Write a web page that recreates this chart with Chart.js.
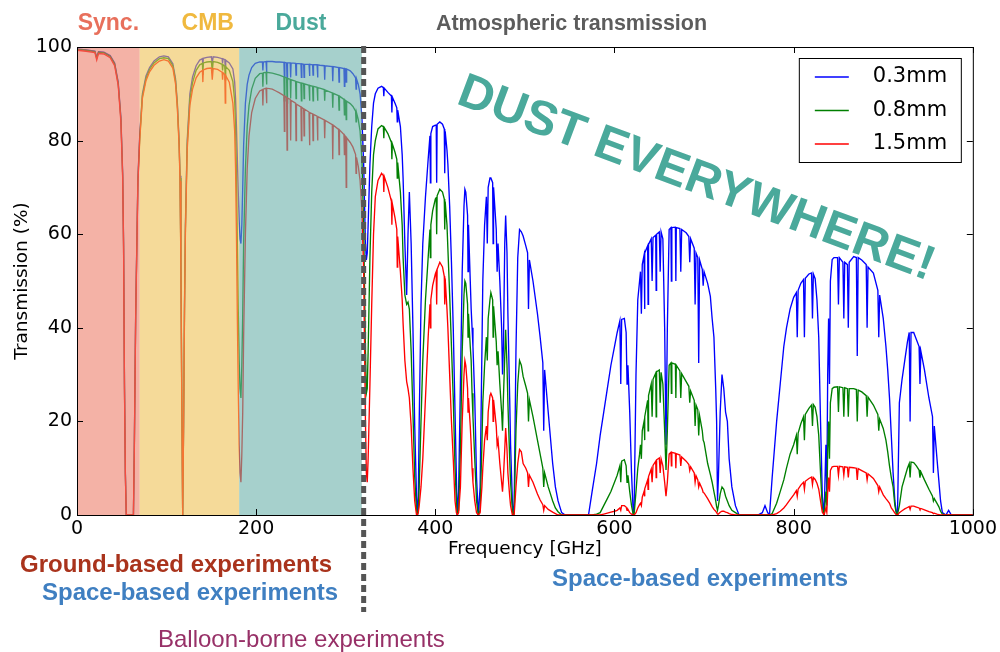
<!DOCTYPE html>
<html>
<head>
<meta charset="utf-8">
<script src="https://cdn.jsdelivr.net/npm/chart.js@4.4.0/dist/chart.umd.min.js"></script>
<style>
  html, body { margin: 0; padding: 0; background: #fff; }
  #canvas_div { width: 1000px; height: 652px; }
</style>
</head>
<body>
<div id="canvas_div"><canvas id="myChart" width="1000" height="652"></canvas></div>
<script>
// frequency grid (GHz), shared by the three PWV curves
const freqGHz = [
  // sync / 60 GHz O2
  0, 10, 20, 22, 24, 30, 37, 42, 46, 49, 51, 52, 53, 54, 55, 60, 63, 64, 65.5, 68,
  // CMB window 1
  70, 73, 77, 81, 86, 92, 97, 102, 107, 110, 112, 114, 115, 116, 117, 118,
  // CMB window 2
  119, 120, 121, 123, 126, 129, 133, 137, 140, 140.5,
  141, 145, 150, 151, 152, 157, 162, 162.5, 163, 165,
  165.5, 166, 170, 174, 176, 177, 178, 179, 180, 181,
  182, 183,
  // dust window
  184, 185, 186, 188, 190, 192, 195, 199, 204, 207,
  207.5, 208, 211, 211.5, 212, 218, 222, 226, 231, 231.5,
  232, 234, 234.5, 235, 238, 238.5, 239, 244, 244.5, 245,
  250, 250.5, 251, 253, 253.5, 254, 259, 259.5, 260, 263,
  263.5, 264, 268, 268.5, 269, 271, 276, 276.5, 277, 285,
  285.5, 286, 292, 292.5, 293, 298, 298.5, 299, 300, 300.5,
  301, 305, 308, 311, 311.5, 312, 314, 316, 318,
  // 350 GHz window
  320, 322, 323, 324, 325, 327, 329, 331, 333, 336,
  340, 342, 342.5, 343, 347, 351, 351.5, 352, 355, 357,
  357.5, 358, 361, 363, 364, 366, 368, 369.5, 371, 373,
  375, 377, 379, 380,
  // 400 GHz
  381, 382, 384, 386, 389, 392, 394, 394.5, 395, 397,
  400, 401, 401.5, 402, 405, 408, 410, 410.5, 411, 413,
  414, 416, 418, 420, 422, 423.5, 424.5,
  // 435 GHz
  426, 428, 430, 432, 433, 434, 436, 436.5, 437, 439,
  440, 441, 442, 444, 446, 448,
  // 460 GHz
  450, 452, 453, 455, 457, 458, 459, 461, 462, 464,
  464.5, 465, 468, 469, 470, 472, 474, 475, 476, 477.5,
  478.5, 480, 481, 483, 484, 486, 487,
  // 500 GHz
  488, 490, 492, 494, 496, 498, 501, 503, 504, 505,
  509, 514, 517, 520, 521, 522, 526, 531, 534, 537,
  541, 545, 560, 571,
  // 600 GHz
  575, 580, 584, 588, 592, 596, 600, 603, 606, 607,
  608, 611, 613, 614, 615, 617, 619, 621,
  // 650 GHz
  622, 624, 626, 628, 629, 630, 631, 633, 633.5, 634,
  637, 637.5, 638, 641, 642, 643, 646, 646.5, 647, 650,
  651, 652, 654, 656, 657.5, 659, 661, 663, 663.5, 664,
  668, 668.5, 669, 673, 674, 675, 680, 683, 684, 685,
  689, 690, 691, 693, 694, 695, 698, 699, 700, 704,
  707, 709, 711, 713, 714, 715, 716, 718, 720, 722,
  724, 726, 728, 731, 735, 739,
  // 850 GHz
  745, 760, 765, 768, 771, 773, 776, 781, 785, 789,
  792, 796, 800, 803, 804, 805, 808, 811, 812, 813,
  817, 820, 821, 822, 824, 826, 828, 830, 832, 834,
  836, 837, 838, 839, 840, 841, 843, 845, 849, 850,
  851, 855, 856, 857, 860, 861, 862, 867, 870, 871,
  872, 876, 881, 882, 883, 889, 894, 895, 896, 900,
  903, 905, 907, 909, 911, 913, 915,
  // 940 GHz
  916, 918, 921, 924, 927, 929, 930, 931, 934, 937,
  940, 941, 942, 946, 951, 955, 956, 957, 960, 962,
  964, 966, 970, 973, 976, 1000
];

// transmission (%) for 0.3 mm PWV
const pwv03 = [
  99.6, 99.4, 99.1, 97.8, 99.0, 98.9, 98.2, 96.6, 92.5, 85, 73, 58, 28, 9, 0, 0, 0, 15, 43, 72,
  81, 90, 93.8, 95.6, 97, 97.9, 98.1, 97.9, 96.4, 93.2, 88.2, 80, 72.5, 55, 25, 0,
  20, 45, 62, 80, 90, 93.6, 96, 97.2, 97.5, 95.8,
  97.6, 97.8, 97.9, 96.6, 97.9, 97.8, 97.5, 96.5, 97.5, 97.3,
  95.5, 97.2, 96.6, 95.3, 92.5, 89, 83, 76, 69, 63,
  59, 58,
  62, 70, 79, 88, 92, 94, 95.6, 96.5, 96.8, 96.8,
  95, 96.8, 96.9, 94.6, 96.9, 96.9, 96.8, 96.8, 96.7, 93.5,
  96.7, 96.6, 93, 96.6, 96.6, 93.5, 96.6, 96.5, 94, 96.5,
  96.4, 93.5, 96.4, 96.3, 93.5, 96.3, 96.3, 93.8, 96.3, 96.2,
  94, 96.2, 96.2, 93.5, 96.2, 96.1, 96, 93, 96, 95.8,
  92.7, 95.8, 95.6, 92.5, 95.6, 95.4, 91.6, 95.4, 95.3, 92.5,
  95.3, 94.9, 94.3, 93.4, 91, 93.2, 92, 90, 85,
  75, 58, 54.5, 56, 62, 75, 83, 88, 90, 91.2,
  91.6, 91.3, 89.5, 91.2, 90.3, 89.5, 86, 89.3, 88, 87,
  84, 86.5, 83, 77, 72, 58, 47, 60, 69, 58,
  40, 19, 4, 0,
  4, 20, 45, 58, 68, 76, 81, 71, 81.5, 83,
  83.3, 83.3, 71, 83.5, 84, 83.5, 82.5, 73, 82, 78,
  75, 66, 54, 40, 22, 8, 0,
  5, 28, 52, 66, 69.6, 69, 64, 52, 62, 50,
  44, 40, 36, 25, 8, 0,
  6, 35, 50, 62, 68, 58, 70, 72, 72, 71,
  58, 70, 61, 52, 58, 50, 40, 30, 36, 58,
  64, 56, 43, 25, 15, 3, 0,
  2, 35, 55, 61, 60.5, 59.6, 57.5, 56, 44, 54.5,
  50, 43, 38, 32.5, 18, 31, 22, 11, 6, 3,
  0.5, 0, 0, 0,
  5, 11, 17, 22, 27, 32, 36, 39, 41.5, 28,
  41.8, 42, 39, 28, 32, 22, 9, 0,
  2, 30, 46, 50, 52, 43, 53.5, 55.5, 44, 56,
  57.5, 45, 57.8, 59, 50, 59.3, 59.8, 48, 60, 60.5,
  52, 60.5, 59, 40, 15, 40, 61, 61.4, 50, 61.4,
  61.5, 50, 61.4, 61.2, 52, 61, 60.3, 59.5, 54, 59,
  57, 45, 56, 55, 32.5, 54.5, 52.5, 49, 52, 49.5,
  46.7, 42, 38, 27, 20, 3, 8, 22, 30, 27,
  22, 20, 12, 6, 2, 0,
  0, 0, 0.5, 2, 0.5, 0, 8, 20, 28, 36,
  40, 44, 46.5, 47.5, 38, 48, 49.5, 50.3, 38, 50.6,
  51.5, 51.7, 42, 51.5, 50.5, 46, 38, 20, 4, 0,
  15, 5, 30, 42, 28, 50, 54.6, 55, 55, 45,
  55, 54, 42, 54, 53.5, 40, 54, 55.2, 55, 34,
  55, 54.5, 53.5, 40, 53, 51.7, 48, 38, 47, 42,
  36, 31, 25, 17, 9, 3, 0,
  1, 24, 29, 33, 37, 39, 20, 39, 39, 37.5,
  36, 28, 35, 31, 25, 21, 9, 19, 12, 7.5,
  3, 0.5, 0, 1, 0, 0
];

// transmission (%) for 0.8 mm PWV
const pwv08 = [
  99.5, 99.3, 99.0, 97.6, 98.9, 98.8, 98.0, 96.4, 92.2, 84.6, 72.5, 57.5, 27.5, 8.7, 0, 0, 0, 14.5, 42.5, 71.5,
  80.5, 89.5, 93.3, 95.2, 96.6, 97.5, 97.7, 97.5, 96.0, 92.7, 87.6, 79.4, 72, 54, 24, 0,
  19.5, 44, 61, 79, 88.8, 92.4, 95, 96.2, 96.5, 94,
  96.6, 96.8, 96.9, 94.8, 96.9, 96.7, 96.3, 95, 96.2, 95.9,
  93, 95.8, 95, 92.6, 88.5, 83, 73, 58, 44, 33,
  27, 25,
  32, 43, 58, 74, 83, 87.5, 91, 93.3, 94.3, 94.4,
  91.5, 94.5, 94.6, 92, 94.6, 94.4, 94.2, 94, 93.6, 88.5,
  93.5, 93.4, 88, 93.3, 93.1, 89, 93, 92.7, 89, 92.6,
  92.3, 88.5, 92.3, 92.2, 89, 92.1, 91.8, 88.5, 91.8, 91.6,
  88.5, 91.6, 91.4, 88.5, 91.3, 91.2, 90.9, 88.5, 90.8, 90.2,
  87, 90.1, 89.6, 86.5, 89.5, 88.8, 85.5, 88.7, 88.5, 84.5,
  88.4, 87.9, 87.3, 86.3, 84, 86, 84.5, 82, 76,
  62, 35, 26, 27, 35, 55, 69, 77, 80, 82.5,
  83.2, 83, 80.5, 82.8, 81.5, 79.6, 76, 79.3, 77.5, 76,
  72, 75.3, 69, 62, 55, 47, 45, 45.5, 44, 35,
  22, 8, 1, 0,
  1, 6, 20, 33, 46, 55, 61, 55, 62, 65,
  67.5, 67.8, 60, 68.2, 69.6, 69, 67.5, 61, 67, 62,
  57, 47, 36, 25, 10, 3, 0,
  1, 14, 35, 47, 50, 49.5, 45, 38, 43, 36,
  33, 26, 21, 12, 3, 0,
  1, 15, 24, 32, 38, 33, 42, 46, 47.5, 46,
  38, 44.6, 37, 32, 35, 28, 22, 18, 25, 34,
  39.6, 32, 24, 12, 7, 1, 0,
  0.5, 18, 28, 33, 32, 29.6, 27.5, 26, 20, 24.6,
  21, 16, 13, 10, 6, 9, 6, 3, 1.5, 0.7,
  0, 0, 0, 0,
  0, 0.2, 0.5, 2, 3.5, 5, 7, 8.5, 10.5, 7,
  11.5, 11.8, 10.5, 7, 8.5, 5, 2, 0,
  0.3, 5, 10, 13, 15, 12, 18, 20, 16, 21,
  24.5, 18, 25.5, 28, 21, 29, 30.3, 21, 30.6, 31,
  24, 30.5, 28, 18, 9.6, 18, 32, 32.5, 26, 32.5,
  32.2, 25, 32, 30.8, 25, 30.2, 28.5, 27.5, 24, 26.5,
  24.5, 19, 23.5, 22.5, 17, 21.2, 18, 16, 15.5, 11,
  8.7, 7, 5, 3, 1.8, 1, 2, 4.5, 6, 5.5,
  4, 3, 2, 1, 0.5, 0,
  0, 0, 0, 0, 0, 0, 0.3, 2.5, 5, 7.5,
  10, 13, 15, 17, 13, 17.5, 19.5, 21, 16, 21.5,
  22.8, 23.5, 19, 23.6, 23, 21, 17, 9, 1.5, 0,
  5, 2, 14, 20, 12, 24, 27, 27.3, 27.4, 22,
  27.4, 27.2, 21, 27.2, 27, 21, 27, 27, 26.8, 20,
  26.7, 26.3, 25.5, 21, 25.2, 23.5, 21.5, 18, 20.5, 18.5,
  16, 13.5, 10.5, 8, 6, 2, 0,
  0.2, 2, 6, 8, 10, 11, 8, 11.3, 11.2, 10.5,
  9.6, 8, 9.2, 7.5, 5.5, 4, 3, 3.5, 2.5, 1.8,
  0.8, 0.2, 0, 0, 0, 0
];

// transmission (%) for 1.5 mm PWV
const pwv15 = [
  99.3, 99.1, 98.8, 97.2, 98.6, 98.5, 97.7, 96.0, 91.8, 84, 72, 57, 27, 8.5, 0, 0, 0, 14, 42, 71,
  80, 89, 92.8, 94.7, 96.1, 97.0, 97.3, 97.0, 95.5, 92.1, 87, 78.8, 71.3, 53, 23, 0,
  19, 43, 60, 78, 87.5, 91, 93.4, 94.6, 95, 92.5,
  95.1, 95.4, 95.5, 93, 95.4, 95.2, 94.6, 93, 94.5, 94.1,
  88, 93.9, 92.5, 88, 82, 74, 60, 42, 27, 15,
  9, 7,
  13, 22, 38, 60, 74, 81, 86, 89, 90.6, 90.9,
  87.5, 91, 91.2, 88, 91.2, 91, 90.6, 90.2, 89.6, 82,
  89.5, 89.3, 78, 89.1, 88.8, 80, 88.6, 88, 80, 87.8,
  87.2, 80, 87.1, 86.8, 81, 86.7, 86.1, 79, 86, 85.7,
  80, 85.6, 85.2, 80, 85.1, 84.9, 84.4, 80.5, 84.3, 83.4,
  76, 83.3, 82.4, 77, 82.3, 81.3, 77, 81.1, 80.8, 70,
  80.6, 79.6, 78.6, 77, 73, 76.4, 74.5, 71.5, 65,
  52, 20, 9, 7, 12, 28, 45, 60, 68, 71.5,
  73, 72.5, 69, 72.3, 70, 67, 62, 66.5, 63.5, 61,
  53, 59.5, 52, 46, 41, 33, 28.5, 27, 25, 19,
  10, 3, 0, 0,
  0.5, 2, 6, 12, 25, 38, 45, 40, 46, 49,
  51.5, 52, 45, 52.5, 54, 53, 51, 45, 50.5, 44,
  40, 30, 20, 12, 3, 0.5, 0,
  0.5, 6, 20, 30, 33, 32, 27, 22, 25, 19,
  15, 10, 7, 3, 0.5, 0,
  0.5, 6, 10, 16, 19, 16, 22, 25.5, 26, 25,
  20, 24.6, 19, 15, 16, 11, 7, 5, 8, 14,
  18.6, 14, 9, 4, 2, 0, 0,
  0, 6, 11, 14, 13.5, 11, 10, 9, 6, 8.5,
  7, 4.5, 3.2, 2.2, 1, 2, 1.2, 0.6, 0.3, 0,
  0, 0, 0, 0,
  0, 0, 0, 0.2, 0.4, 0.6, 0.8, 1, 1.5, 1,
  2, 2, 1.7, 1, 1.2, 0.5, 0.2, 0,
  0, 0.5, 1.5, 2.2, 2.5, 2, 3.8, 5, 4, 5.6,
  7.5, 5.5, 8.2, 9.8, 7, 10.6, 11.5, 8, 11.8, 12.2,
  9, 12, 10.5, 7, 4, 7, 13, 13.4, 10.5, 13.4,
  13.2, 10, 13.1, 12.8, 10.5, 12.4, 11.5, 10.8, 9.5, 10.3,
  9, 7, 8.4, 7.5, 6, 6.8, 5.5, 4.8, 4.7, 3.5,
  2.5, 1.8, 1.2, 0.8, 0.5, 0.2, 0.2, 0.6, 0.8, 0.8,
  0.6, 0.5, 0.3, 0.1, 0, 0,
  0, 0, 0, 0, 0, 0, 0, 0.3, 0.8, 1.5,
  2.2, 3.3, 4.3, 5.2, 4, 5.5, 6.4, 7, 5.5, 7.2,
  7.8, 8.1, 6.5, 8, 7.6, 6.8, 5.5, 3, 0.6, 0,
  1.5, 0.6, 5, 8, 5, 9.5, 10.3, 10.4, 10.4, 8.5,
  10.4, 10.3, 8.5, 10.3, 10.2, 8, 10.2, 10.1, 10, 7.5,
  9.9, 9.5, 9, 7.5, 8.8, 7.8, 6.3, 5, 6, 4.3,
  3.5, 3, 2.5, 1.5, 1, 0.4, 0,
  0, 0.5, 0.9, 1.3, 1.6, 1.8, 1.2, 1.9, 1.9, 1.7,
  1.5, 1.2, 1.4, 1.1, 0.7, 0.5, 0.3, 0.4, 0.2, 0.1,
  0, 0, 0, 0, 0, 0
];

const seriesNames = ["0.3mm", "0.8mm", "1.5mm"];
const seriesColors = ["#0000ff", "#007f00", "#ff0000"];
const seriesValues = [pwv03, pwv08, pwv15];

const xTicks = [0, 200, 400, 600, 800, 1000];
const yTicks = [0, 20, 40, 60, 80, 100];

// foreground bands, GHz
const bandEdges = [0, 70, 181, 318];
const bandLabels = ["Sync.", "CMB", "Dust"];
const bandLabelAt = [35, 146, 250];
const bandFills = ["rgba(237,127,107,0.6)", "rgba(238,193,85,0.6)", "rgba(107,177,170,0.6)"];
const bandTextColors = ["#e8705c", "#f0b93f", "#4aa99b"];
const dividerGHz = 320;

const decorations = {
  id: "decorations",
  afterDatasetsDraw(chart) {
    const { ctx, chartArea: a, scales: { x } } = chart;
    ctx.save();
    for (let i = 0; i < bandLabels.length; i++) {
      const x0 = x.getPixelForValue(bandEdges[i]);
      const x1 = x.getPixelForValue(bandEdges[i + 1]);
      ctx.fillStyle = bandFills[i];
      ctx.fillRect(x0, a.top, x1 - x0, a.bottom - a.top);
    }
    ctx.restore();
  },
  afterDraw(chart) {
    const { ctx, chartArea: a, scales: { x, y } } = chart;
    ctx.save();

    // axes frame and inward ticks
    ctx.strokeStyle = "#000";
    ctx.lineWidth = 1;
    ctx.strokeRect(a.left + 0.5, a.top + 0.5, a.right - a.left, a.bottom - a.top);
    ctx.beginPath();
    xTicks.forEach((v) => {
      const px = Math.round(x.getPixelForValue(v)) + 0.5;
      ctx.moveTo(px, a.bottom); ctx.lineTo(px, a.bottom - 6);
      ctx.moveTo(px, a.top); ctx.lineTo(px, a.top + 6);
    });
    yTicks.forEach((v) => {
      const py = Math.round(y.getPixelForValue(v)) + 0.5;
      ctx.moveTo(a.left, py); ctx.lineTo(a.left + 6, py);
      ctx.moveTo(a.right, py); ctx.lineTo(a.right - 6, py);
    });
    ctx.stroke();

    // dashed divider
    const dx = x.getPixelForValue(dividerGHz);
    ctx.strokeStyle = "#555";
    ctx.lineWidth = 5;
    ctx.setLineDash([7, 4]);
    ctx.beginPath();
    ctx.moveTo(dx, 46);
    ctx.lineTo(dx, 612);
    ctx.stroke();
    ctx.setLineDash([]);

    // band names on top
    ctx.textAlign = "center";
    ctx.textBaseline = "alphabetic";
    ctx.font = "bold 23px 'Liberation Sans'";
    bandLabels.forEach((t, i) => {
      ctx.fillStyle = bandTextColors[i];
      ctx.fillText(t, x.getPixelForValue(bandLabelAt[i]), 30);
    });
    ctx.font = "bold 21.5px 'Liberation Sans'";
    ctx.fillStyle = "#5c5c5c";
    ctx.fillText("Atmospheric transmission", x.getPixelForValue(552), 30);

    // experiment labels
    ctx.textAlign = "left";
    ctx.font = "bold 24px 'Liberation Sans'";
    ctx.fillStyle = "#a9331c";
    ctx.fillText("Ground-based experiments", 20, 572);
    ctx.fillStyle = "#3f7fc1";
    ctx.fillText("Space-based experiments", 42, 600);
    ctx.fillText("Space-based experiments", 552, 586);
    ctx.font = "24px 'Liberation Sans'";
    ctx.fillStyle = "#973067";
    ctx.fillText("Balloon-borne experiments", 158, 647);

    // legend
    const lx = a.right - 174, ly = a.top + 11;
    ctx.fillStyle = "#fff";
    ctx.fillRect(lx, ly, 162, 104);
    ctx.strokeStyle = "#000";
    ctx.lineWidth = 1;
    ctx.strokeRect(lx + 0.5, ly + 0.5, 162, 104);
    ctx.font = "21px 'DejaVu Sans'";
    ctx.textBaseline = "middle";
    seriesNames.forEach((n, i) => {
      const yy = ly + 19 + i * 33.5;
      ctx.strokeStyle = seriesColors[i];
      ctx.lineWidth = 1.3;
      ctx.beginPath();
      ctx.moveTo(lx + 16, yy); ctx.lineTo(lx + 50, yy);
      ctx.stroke();
      ctx.fillStyle = "#000";
      ctx.fillText(n, lx + 74, yy);
    });

    // slogan
    ctx.translate(455, 103);
    ctx.rotate(20.6 * Math.PI / 180);
    ctx.textBaseline = "alphabetic";
    ctx.font = "bold 48.5px 'Liberation Sans'";
    ctx.fillStyle = "#4aa99b";
    ctx.fillText("DUST EVERYWHERE!", 0, 0);
    ctx.restore();
  }
};

Chart.defaults.font.family = "'DejaVu Sans'";
Chart.defaults.color = "#000";

const informations = {
  datasets: seriesValues.map((vals, i) => ({
    label: seriesNames[i],
    data: freqGHz.map((f, j) => ({ x: f, y: vals[j] })),
    borderColor: seriesColors[i],
    borderWidth: 1.35,
    pointRadius: 0,
    tension: 0,
    fill: false,
    order: 3 - i,
  })),
};

const config = {
  type: "line",
  data: informations,
  options: {
    responsive: false,
    animation: false,
    devicePixelRatio: 1,
    layout: { padding: { top: 47, right: 23, left: 0, bottom: 0 } },
    plugins: { legend: { display: false }, tooltip: { enabled: false } },
    scales: {
      x: {
        type: "linear",
        min: 0,
        max: 1000,
        afterFit: (s) => { s.height = 137; },
        afterBuildTicks: (s) => { s.ticks = xTicks.map((v) => ({ value: v })); },
        grid: { display: false, drawTicks: false },
        border: { display: false },
        ticks: { padding: 3, font: { size: 19 }, color: "#000", maxRotation: 0, callback: (v) => String(v) },
        title: { display: true, text: "Frequency [GHz]", font: { size: 18.5 }, color: "#000", padding: { top: 0, bottom: 92 } },
      },
      y: {
        min: 0,
        max: 100,
        afterFit: (s) => { s.width = 77; },
        afterBuildTicks: (s) => { s.ticks = yTicks.map((v) => ({ value: v })); },
        grid: { display: false, drawTicks: false },
        border: { display: false },
        ticks: { padding: 5, font: { size: 19 }, color: "#000", callback: (v) => String(v) },
        title: { display: true, text: "Transmission (%)", font: { size: 18.5 }, color: "#000", padding: { top: 11, bottom: 0 } },
      },
    },
  },
  plugins: [decorations],
};

const myChart = new Chart(document.getElementById("myChart"), config);
</script>
</body>
</html>
